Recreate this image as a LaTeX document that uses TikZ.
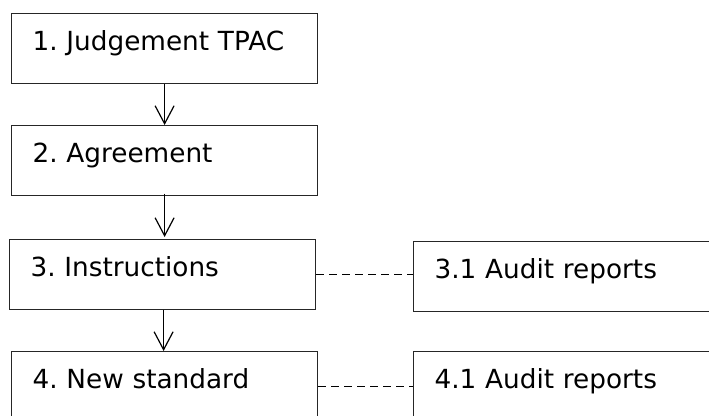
\documentclass[tikz,border=0pt]{standalone}
\usepackage{fontspec}
\setmainfont{DejaVu Sans}
\frenchspacing
\usetikzlibrary{arrows.meta}
\begin{document}
\begin{tikzpicture}[x=1pt,y=-1pt,
  box/.style={draw=black!85, line width=1.2pt, anchor=north west, inner xsep=21pt, inner ysep=0pt,
    text height=36.5pt, text depth=33pt, align=left, font=\fontsize{26.3}{30}\selectfont},
  leftbox/.style={box, text width=264pt},
  rightbox/.style={box, text width=280pt},
  flow/.style={draw=black, line width=1.2pt, -{Straight Barb[length=18pt,width=19pt,line width=1.2pt]}},
  link/.style={draw=black, line width=1.4pt, dash pattern=on 8pt off 5pt}]
\useasboundingbox (0,0) rectangle (709,415);
\clip (0,0) rectangle (709,415);
\node[leftbox] (b1) at (11,13) {1. Judgement TPAC};
\node[leftbox] (b2) at (11,125) {2. Agreement};
\node[leftbox] (b3) at (9,239) {3. Instructions};
\node[leftbox] (b4) at (11,351) {4. New standard};
\node[rightbox] (r3) at (413,241) {3.1 Audit reports};
\node[rightbox] (r4) at (413,351) {4.1 Audit reports};
\draw[flow] (b1.south) -- (b2.north);
\draw[flow] ([yshift=2pt]b2.south) -- ([yshift=2pt]b2.south |- b3.north);
\draw[flow] ([xshift=1pt]b3.south) -- ([xshift=1pt]b3.south |- b4.north);
\draw[link] (b3.east) -- (b3.east -| r3.west);
\draw[link] (b4.east) -- (b4.east -| r4.west);
\end{tikzpicture}
\end{document}
